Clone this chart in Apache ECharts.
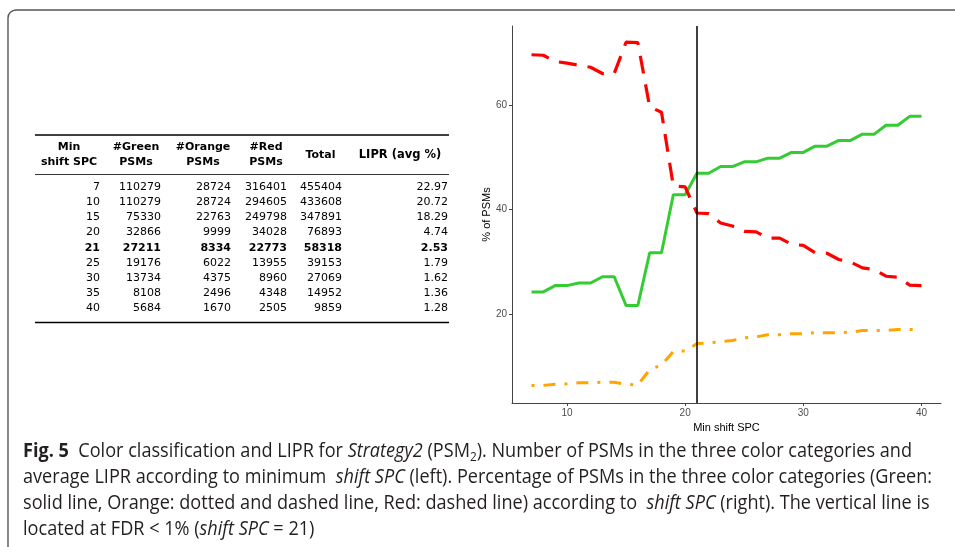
<!DOCTYPE html>
<html>
<head>
<meta charset="utf-8">
<script src="https://cdn.jsdelivr.net/npm/echarts@6/dist/echarts.min.js"></script>
<style>
  html, body { margin: 0; background: #fff; }
  #chart { width: 955px; height: 547px; }
</style>
</head>
<body>
<div id="chart"></div>
<script>
// 表格数据（左侧）
const tableShift = [7, 10, 15, 20, 21, 25, 30, 35, 40];
const tableGreen = [110279, 110279, 75330, 32866, 27211, 19176, 13734, 8108, 5684];
const tableOrange = [28724, 28724, 22763, 9999, 8334, 6022, 4375, 2496, 1670];
const tableRed = [316401, 294605, 249798, 34028, 22773, 13955, 8960, 4348, 2505];
const tableTotal = [455404, 433608, 347891, 76893, 58318, 39153, 27069, 14952, 9859];
const tableLipr = ['22.97', '20.72', '18.29', '4.74', '2.53', '1.79', '1.62', '1.36', '1.28'];
const boldShift = 21;

// 折线图数据（右侧）
const minShift = [7, 8, 9, 10, 11, 12, 13, 14, 15, 16, 17, 18, 19, 20, 21, 22, 23,
  24, 25, 26, 27, 28, 29, 30, 31, 32, 33, 34, 35, 36, 37, 38, 39, 40];
const greenPct = [24.2, 24.2, 25.4, 25.4, 25.9, 25.9, 27.1, 27.1, 21.6, 21.6, 31.7, 31.7,
  42.8, 42.8, 46.9, 46.9, 48.2, 48.2, 49.1, 49.1, 49.8, 49.8, 50.9, 50.9, 52.1, 52.1,
  53.2, 53.2, 54.4, 54.4, 56.1, 56.1, 57.8, 57.8];
const redPct = [69.6, 69.5, 68.3, 68.0, 67.6, 67.2, 66.0, 66.0, 72.0, 71.9, 59.6, 58.6,
  44.5, 44.3, 39.3, 39.2, 37.4, 36.8, 35.8, 35.7, 34.5, 34.5, 33.3, 33.1, 31.7, 31.6,
  30.4, 29.9, 28.8, 28.5, 27.2, 27.0, 25.5, 25.4];
const orangePct = [6.3, 6.3, 6.5, 6.6, 6.8, 6.8, 6.9, 6.9, 6.5, 6.4, 9.3, 10.2,
  12.8, 12.9, 14.3, 14.4, 14.7, 14.9, 15.4, 15.6, 16.0, 16.0, 16.2, 16.2, 16.4, 16.4,
  16.4, 16.5, 16.8, 16.8, 16.8, 17.0, 17.0, 17.0];
const fdrShift = 21; // 竖线位置
const xTicks = [10, 20, 30, 40];
const yTicks = [20, 40, 60];

const headerTop = ['Min', '#Green', '#Orange', '#Red'];
const headerBottom = ['shift SPC', 'PSMs', 'PSMs', 'PSMs'];

const chart = echarts.init(document.getElementById('chart'));

// 表格 graphic 元素
const tableFont = 'DejaVu Sans';
const colRight = [100, 161, 231, 287, 342, 448];
const headCenter = [69, 136, 203, 266];
const rowY0 = 187;
const rowH = 15.2;
const tableEls = [];

headerTop.forEach((t, j) => {
  tableEls.push({ type: 'text', x: headCenter[j], y: 147,
    style: { text: t, align: 'center', verticalAlign: 'middle', fontFamily: tableFont, fontWeight: 'bold', fontSize: 11, fill: '#000' } });
  tableEls.push({ type: 'text', x: headCenter[j], y: 162,
    style: { text: headerBottom[j], align: 'center', verticalAlign: 'middle', fontFamily: tableFont, fontWeight: 'bold', fontSize: 11, fill: '#000' } });
});
tableEls.push({ type: 'text', x: 320.5, y: 155,
  style: { text: 'Total', align: 'center', verticalAlign: 'middle', fontFamily: tableFont, fontWeight: 'bold', fontSize: 11, fill: '#000' } });
tableEls.push({ type: 'text', x: 400, y: 155,
  style: { text: 'LIPR (avg %)', align: 'center', verticalAlign: 'middle', fontFamily: tableFont, fontWeight: 'bold', fontSize: 11.5, fill: '#000' } });

tableShift.forEach((s, i) => {
  const cells = [s, tableGreen[i], tableOrange[i], tableRed[i], tableTotal[i], tableLipr[i]];
  cells.forEach((v, j) => {
    tableEls.push({ type: 'text', x: colRight[j], y: rowY0 + i * rowH,
      style: { text: String(v), align: 'right', verticalAlign: 'middle', fontFamily: tableFont,
        fontWeight: s === boldShift ? 'bold' : 'normal', fontSize: 11, fill: '#000' } });
  });
});
// 表格横线
[[135, 1.3], [174.5, 0.8], [322.5, 1.3]].forEach(([y, w]) => {
  tableEls.push({ type: 'line', shape: { x1: 35, y1: y, x2: 449, y2: y }, style: { stroke: '#000', lineWidth: w } });
});

const caption =
  '{b|Fig. 5}  Color classification and LIPR for {i|Strategy2} (PSM{s|2}). Number of PSMs in the three color categories and\n' +
  'average LIPR according to minimum  {i|shift SPC} (left). Percentage of PSMs in the three color categories (Green:\n' +
  'solid line, Orange: dotted and dashed line, Red: dashed line) according to  {i|shift SPC} (right). The vertical line is\n' +
  'located at FDR < 1% ({i|shift SPC} = 21)';

const frameStyle = { stroke: '#555', lineWidth: 1.4, fill: 'none' };

const option = {
  animation: false,
  grid: { left: 512, top: 26, width: 429, height: 377, containLabel: false },
  xAxis: {
    type: 'value',
    min: 5.35,
    max: 41.65,
    name: 'Min shift SPC',
    nameLocation: 'middle',
    nameGap: 18,
    nameTextStyle: { fontFamily: 'Liberation Sans', fontSize: 11, color: '#000' },
    axisLine: { lineStyle: { color: '#444', width: 1 } },
    axisTick: { show: true, length: 3, customValues: xTicks, lineStyle: { color: '#444' } },
    axisLabel: { customValues: xTicks, margin: 5, fontFamily: 'Liberation Sans', fontSize: 10, color: '#4D4D4D' },
    splitLine: { show: false },
  },
  yAxis: {
    type: 'value',
    min: 2.93,
    max: 75.1,
    name: '% of PSMs',
    nameLocation: 'middle',
    nameGap: 18,
    nameTextStyle: { fontFamily: 'Liberation Sans', fontSize: 11, color: '#000' },
    axisLine: { show: true, lineStyle: { color: '#444', width: 1 } },
    axisTick: { show: true, length: 3, customValues: yTicks, lineStyle: { color: '#444' } },
    axisLabel: { customValues: yTicks, margin: 5, fontFamily: 'Liberation Sans', fontSize: 10, color: '#4D4D4D' },
    splitLine: { show: false },
  },
  series: [
    {
      name: 'Green', type: 'line', showSymbol: false, silent: true,
      data: minShift.map((x, i) => [x, greenPct[i]]),
      lineStyle: { color: '#33CC33', width: 3 },
      markLine: {
        silent: true, symbol: ['none', 'none'], label: { show: false },
        lineStyle: { color: '#000', width: 1.5, type: 'solid' },
        data: [{ xAxis: fdrShift }],
      },
    },
    {
      name: 'Orange', type: 'line', showSymbol: false, silent: true,
      data: minShift.map((x, i) => [x, orangePct[i]]),
      lineStyle: { color: '#FFA500', width: 3, type: [3, 9, 12, 9] },
    },
    {
      name: 'Red', type: 'line', showSymbol: false, silent: true,
      data: minShift.map((x, i) => [x, redPct[i]]),
      lineStyle: { color: '#FF0000', width: 3.2, type: [18, 11] },
    },
  ],
  graphic: [
    // 外框
    { type: 'line', shape: { x1: 8, y1: 547, x2: 8, y2: 18 }, style: frameStyle },
    { type: 'arc', shape: { cx: 16, cy: 18, r: 8, startAngle: Math.PI, endAngle: Math.PI * 1.5, clockwise: true }, style: frameStyle },
    { type: 'line', shape: { x1: 16, y1: 10, x2: 955, y2: 10 }, style: frameStyle },
    ...tableEls,
    { type: 'text', x: 23, y: 438, scaleX: 0.905,
      style: {
        text: caption, fontFamily: 'Open Sans', fontSize: 20, lineHeight: 26, fill: '#231f20',
        rich: {
          b: { fontFamily: 'Open Sans', fontSize: 20, fontWeight: 'bold', fill: '#231f20' },
          i: { fontFamily: 'Open Sans', fontSize: 20, fontStyle: 'italic', fill: '#231f20' },
          s: { fontFamily: 'Open Sans', fontSize: 13, verticalAlign: 'bottom', lineHeight: 22, fill: '#231f20' },
        },
      } },
  ],
};
chart.setOption(option);
</script>
</body>
</html>
